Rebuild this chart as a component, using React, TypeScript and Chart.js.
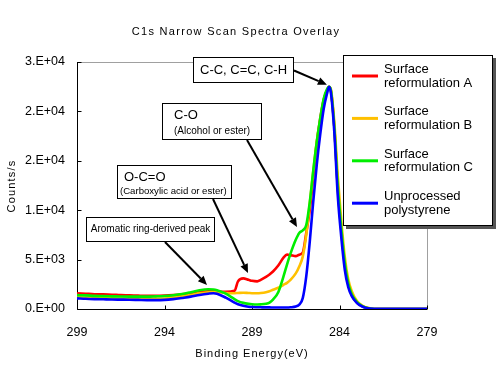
import React, { useEffect, useRef } from 'react';
import { Chart, registerables } from 'chart.js';

Chart.register(...registerables);

const energies = [
  299, 298.5, 298, 297.5, 297, 296.5, 296, 295.5, 295, 294.5,
  294, 293.5, 293, 292.5, 292, 291.5, 291.2, 291, 290.5, 290,
  289.8, 289.5, 289.2, 289, 288.7, 288.5, 288.2, 288, 287.8, 287.5,
  287.2, 287, 286.8, 286.5, 286.3, 286.1, 285.9, 285.7, 285.5, 285.3,
  285.1, 284.9, 284.7, 284.6, 284.5, 284.3, 284.1, 283.9, 283.7, 283.5,
  283.3, 283, 282.7, 282.4, 282, 281, 280, 279,
];

const surfaceA = [
  1600, 1550, 1500, 1480, 1450, 1400, 1380, 1350, 1330, 1330,
  1350, 1400, 1480, 1600, 1720, 1800, 1800, 1780, 1750, 1850,
  2800, 3100, 2950, 2850, 2800, 2950, 3250, 3500, 3800, 4400,
  5200, 5500, 5450, 5350, 5500, 5700, 7700, 10000, 13400, 16800,
  19300, 21200, 22200, 22500, 22200, 18500, 12300, 8000, 4500, 2500,
  1400, 650, 280, 90, 0, 0, 0, 0,
];

const surfaceB = [
  1200, 1150, 1120, 1100, 1080, 1050, 1030, 1000, 1000, 1020,
  1050, 1150, 1280, 1420, 1580, 1700, 1720, 1700, 1620, 1600,
  1620, 1650, 1620, 1600, 1600, 1620, 1700, 1800, 1950, 2150,
  2450, 2650, 2950, 3600, 4300, 5300, 7500, 10700, 13900, 16900,
  19100, 21100, 22200, 22500, 22300, 19000, 13500, 9000, 5300, 3000,
  1800, 800, 350, 120, 0, 0, 0, 0,
];

const surfaceC = [
  1400, 1380, 1330, 1300, 1280, 1260, 1250, 1250, 1250, 1280,
  1320, 1400, 1520, 1700, 1900, 2000, 1980, 1900, 1550, 1000,
  800, 620, 520, 480, 460, 470, 530, 650, 950, 1700,
  3300, 4500, 5600, 7000, 7700, 7950, 8500, 10800, 14000, 16900,
  19300, 21300, 22300, 22500, 22200, 18500, 12500, 8200, 4700, 2600,
  1500, 700, 300, 100, 0, 0, 0, 0,
];

const unprocessed = [
  1080, 1030, 1000, 980, 960, 950, 940, 920, 900, 900,
  920, 1000, 1120, 1250, 1420, 1550, 1600, 1550, 1150, 650,
  480, 320, 230, 200, 180, 170, 160, 160, 150, 150,
  150, 150, 170, 250, 450, 1100, 3300, 6800, 10900, 14600,
  17700, 20300, 21900, 22500, 22000, 18000, 11500, 7300, 4000, 2200,
  1300, 600, 250, 80, 30, 20, 20, 20,
];

const seriesValues = [surfaceA, surfaceB, surfaceC, unprocessed];
const seriesLabels = [
  'Surface reformulation A',
  'Surface reformulation B',
  'Surface reformulation C',
  'Unprocessed polystyrene',
];
const legendLines = [
  ['Surface', 'reformulation A'],
  ['Surface', 'reformulation B'],
  ['Surface', 'reformulation C'],
  ['Unprocessed', 'polystyrene'],
];
const seriesColors = ['#ff0000', '#ffc000', '#00ee00', '#0000ff'];

const xTickValues = [299, 294, 289, 284, 279];
const yTickValues = [0, 5000, 10000, 15000, 20000, 25000];
const yTickLabels = ['0.E+00', '5.E+03', '1.E+04', '2.E+04', '2.E+04', '3.E+04'];

const chartTitle = 'C1s Narrow Scan Spectra Overlay';
const xTitle = 'Binding Energy(eV)';
const yTitle = 'Counts/s';

// annotation arrow tips, in data units
const annotationTipEnergy = [284.72, 286.43, 289.23, 291.57];
const annotationTipCounts = [22700, 8300, 3640, 2430];
const annotationTexts = [
  ['C-C, C=C, C-H'],
  ['C-O', '(Alcohol or ester)'],
  ['O-C=O', '(Carboxylic acid or ester)'],
  ['Aromatic ring-derived peak'],
];

const FONT = "'Liberation Sans', Arial, sans-serif";

function drawText(ctx: any, text: string, x: number, y: number, size: number, align: string, spacing = 0) {
  ctx.font = `${size}px ${FONT}`;
  ctx.textAlign = align;
  ctx.textBaseline = 'middle';
  ctx.fillStyle = '#000';
  ctx.letterSpacing = spacing + 'px';
  ctx.fillText(text, x, y);
  ctx.letterSpacing = '0px';
}

function drawArrow(ctx: any, x0: number, y0: number, x1: number, y1: number) {
  const ang = Math.atan2(y1 - y0, x1 - x0);
  const hl = 9;
  const hw = 4;
  const bx = x1 - hl * Math.cos(ang);
  const by = y1 - hl * Math.sin(ang);
  ctx.strokeStyle = '#000';
  ctx.fillStyle = '#000';
  ctx.lineWidth = 2;
  ctx.beginPath();
  ctx.moveTo(x0, y0);
  ctx.lineTo(bx, by);
  ctx.stroke();
  ctx.beginPath();
  ctx.moveTo(x1, y1);
  ctx.lineTo(bx + hw * Math.sin(ang), by - hw * Math.cos(ang));
  ctx.lineTo(bx - hw * Math.sin(ang), by + hw * Math.cos(ang));
  ctx.closePath();
  ctx.fill();
}

// layout of annotation boxes (pixels)
const boxLayout = [
  { x: 193, y: 57, w: 101, h: 26, from: [294, 70.5], lines: [{ s: 13, x: 243.5, y: 70.5, a: 'center' }] },
  { x: 162, y: 103, w: 100, h: 37, from: [247, 140], lines: [{ s: 13, x: 174, y: 115, a: 'left' }, { s: 10, x: 174, y: 131, a: 'left' }] },
  { x: 117, y: 165, w: 115, h: 34, from: [213, 199], lines: [{ s: 13, x: 124, y: 177, a: 'left' }, { s: 9.6, x: 120, y: 191, a: 'left' }] },
  { x: 86, y: 217, w: 129, h: 25, from: [165, 242], lines: [{ s: 10, x: 150.5, y: 229.5, a: 'center' }] },
];

const decorPlugin = {
  id: 'decor',
  beforeDatasetsDraw(chart: any) {
    const { ctx } = chart;
    const { left, right, top, bottom } = chart.chartArea;
    const xs = chart.scales.x;
    const ys = chart.scales.y;
    ctx.save();
    ctx.lineWidth = 1;
    ctx.strokeStyle = '#a0a0a0';
    const T = Math.round(top) + 0.5;
    const R = Math.round(right) + 0.5;
    ctx.beginPath();
    ctx.moveTo(left, T);
    ctx.lineTo(R, T);
    ctx.lineTo(R, bottom);
    ctx.stroke();
    ctx.strokeStyle = '#000';
    const L = Math.round(left) + 0.5;
    const B = Math.round(bottom) + 0.5;
    ctx.beginPath();
    ctx.moveTo(L, top);
    ctx.lineTo(L, B);
    ctx.lineTo(right, B);
    for (const v of xTickValues) {
      const px = Math.round(xs.getPixelForValue(v)) + 0.5;
      ctx.moveTo(px, B);
      ctx.lineTo(px, B - 4);
    }
    for (const v of yTickValues) {
      const py = Math.round(ys.getPixelForValue(v)) + 0.5;
      ctx.moveTo(L, py);
      ctx.lineTo(L + 4, py);
    }
    ctx.stroke();
    ctx.restore();
  },
  afterDraw(chart: any) {
    const { ctx } = chart;
    const xs = chart.scales.x;
    const ys = chart.scales.y;
    ctx.save();
    // titles
    drawText(ctx, chartTitle, 236, 32, 11, 'center', 1.3);
    drawText(ctx, xTitle, 252, 354, 11, 'center', 1);
    ctx.save();
    ctx.translate(12, 186);
    ctx.rotate(-Math.PI / 2);
    drawText(ctx, yTitle, 0, 0, 11, 'center', 1.2);
    ctx.restore();

    // annotation arrows and boxes
    boxLayout.forEach((b, i) => {
      const tx = xs.getPixelForValue(annotationTipEnergy[i]);
      const ty = ys.getPixelForValue(annotationTipCounts[i]);
      drawArrow(ctx, b.from[0], b.from[1], tx, ty);
    });
    boxLayout.forEach((b, i) => {
      ctx.fillStyle = '#fff';
      ctx.fillRect(b.x, b.y, b.w, b.h);
      ctx.strokeStyle = '#000';
      ctx.lineWidth = 1;
      ctx.strokeRect(b.x + 0.5, b.y + 0.5, b.w - 1, b.h - 1);
      b.lines.forEach((ln, j) => {
        drawText(ctx, annotationTexts[i][j], ln.x, ln.y, ln.s, ln.a);
      });
    });

    // legend
    const lx = 343, ly = 55, lw = 150, lh = 171;
    ctx.fillStyle = '#555';
    ctx.fillRect(lx + 3, ly + 3, lw, lh);
    ctx.fillStyle = '#fff';
    ctx.fillRect(lx, ly, lw, lh);
    ctx.strokeStyle = '#000';
    ctx.lineWidth = 1;
    ctx.strokeRect(lx + 0.5, ly + 0.5, lw - 1, lh - 1);
    legendLines.forEach((lines, i) => {
      const cy = 76 + i * 42.4;
      ctx.strokeStyle = seriesColors[i];
      ctx.lineWidth = 3;
      ctx.beginPath();
      ctx.moveTo(352, cy);
      ctx.lineTo(378, cy);
      ctx.stroke();
      drawText(ctx, lines[0], 384, cy - 6.5, 13, 'left');
      drawText(ctx, lines[1], 384, cy + 7, 13, 'left');
    });
    ctx.restore();
  },
};

export default function App() {
  const canvasRef = useRef<HTMLCanvasElement | null>(null);

  useEffect(() => {
    document.body.style.margin = '0';
    const canvas = canvasRef.current;
    if (!canvas) return;
    Chart.defaults.font.family = FONT;
    const datasets = seriesValues.map((vals, i) => ({
      label: seriesLabels[i],
      data: energies.map((e, j) => ({ x: e, y: vals[j] })),
      borderColor: seriesColors[i],
      backgroundColor: seriesColors[i],
      borderWidth: 2.6,
      pointRadius: 0,
      fill: false,
      cubicInterpolationMode: 'monotone' as const,
      order: 4 - i,
    }));
    const chart = new Chart(canvas, {
      type: 'line',
      data: { datasets },
      options: {
        responsive: false,
        animation: false,
        devicePixelRatio: 1,
        events: [],
        layout: { padding: { left: 0, right: 73, top: 62, bottom: 0 } },
        plugins: {
          legend: { display: false },
          title: { display: false },
          tooltip: { enabled: false },
        },
        scales: {
          x: {
            type: 'linear',
            min: 279,
            max: 299,
            reverse: true,
            afterFit: (s: any) => { s.height = 68; },
            grid: { display: false, drawTicks: false },
            border: { display: false },
            ticks: {
              stepSize: 5,
              padding: 16,
              color: '#000',
              font: { size: 12.5 },
              maxRotation: 0,
              autoSkip: false,
              callback: (v: any) => String(v),
            },
          },
          y: {
            type: 'linear',
            min: 0,
            max: 25000,
            afterFit: (s: any) => { s.width = 77; },
            grid: { display: false, drawTicks: false },
            border: { display: false },
            ticks: {
              stepSize: 5000,
              padding: 12,
              color: '#000',
              font: { size: 12.5 },
              callback: (v: any) => {
                const k = yTickValues.indexOf(Number(v));
                return k >= 0 ? yTickLabels[k] : '';
              },
            },
          },
        },
      },
      plugins: [decorPlugin],
    } as any);
    return () => chart.destroy();
  }, []);

  return (
    <div style={{ width: 500, height: 377, background: '#fff' }}>
      <canvas ref={canvasRef} width={500} height={377} />
    </div>
  );
}
